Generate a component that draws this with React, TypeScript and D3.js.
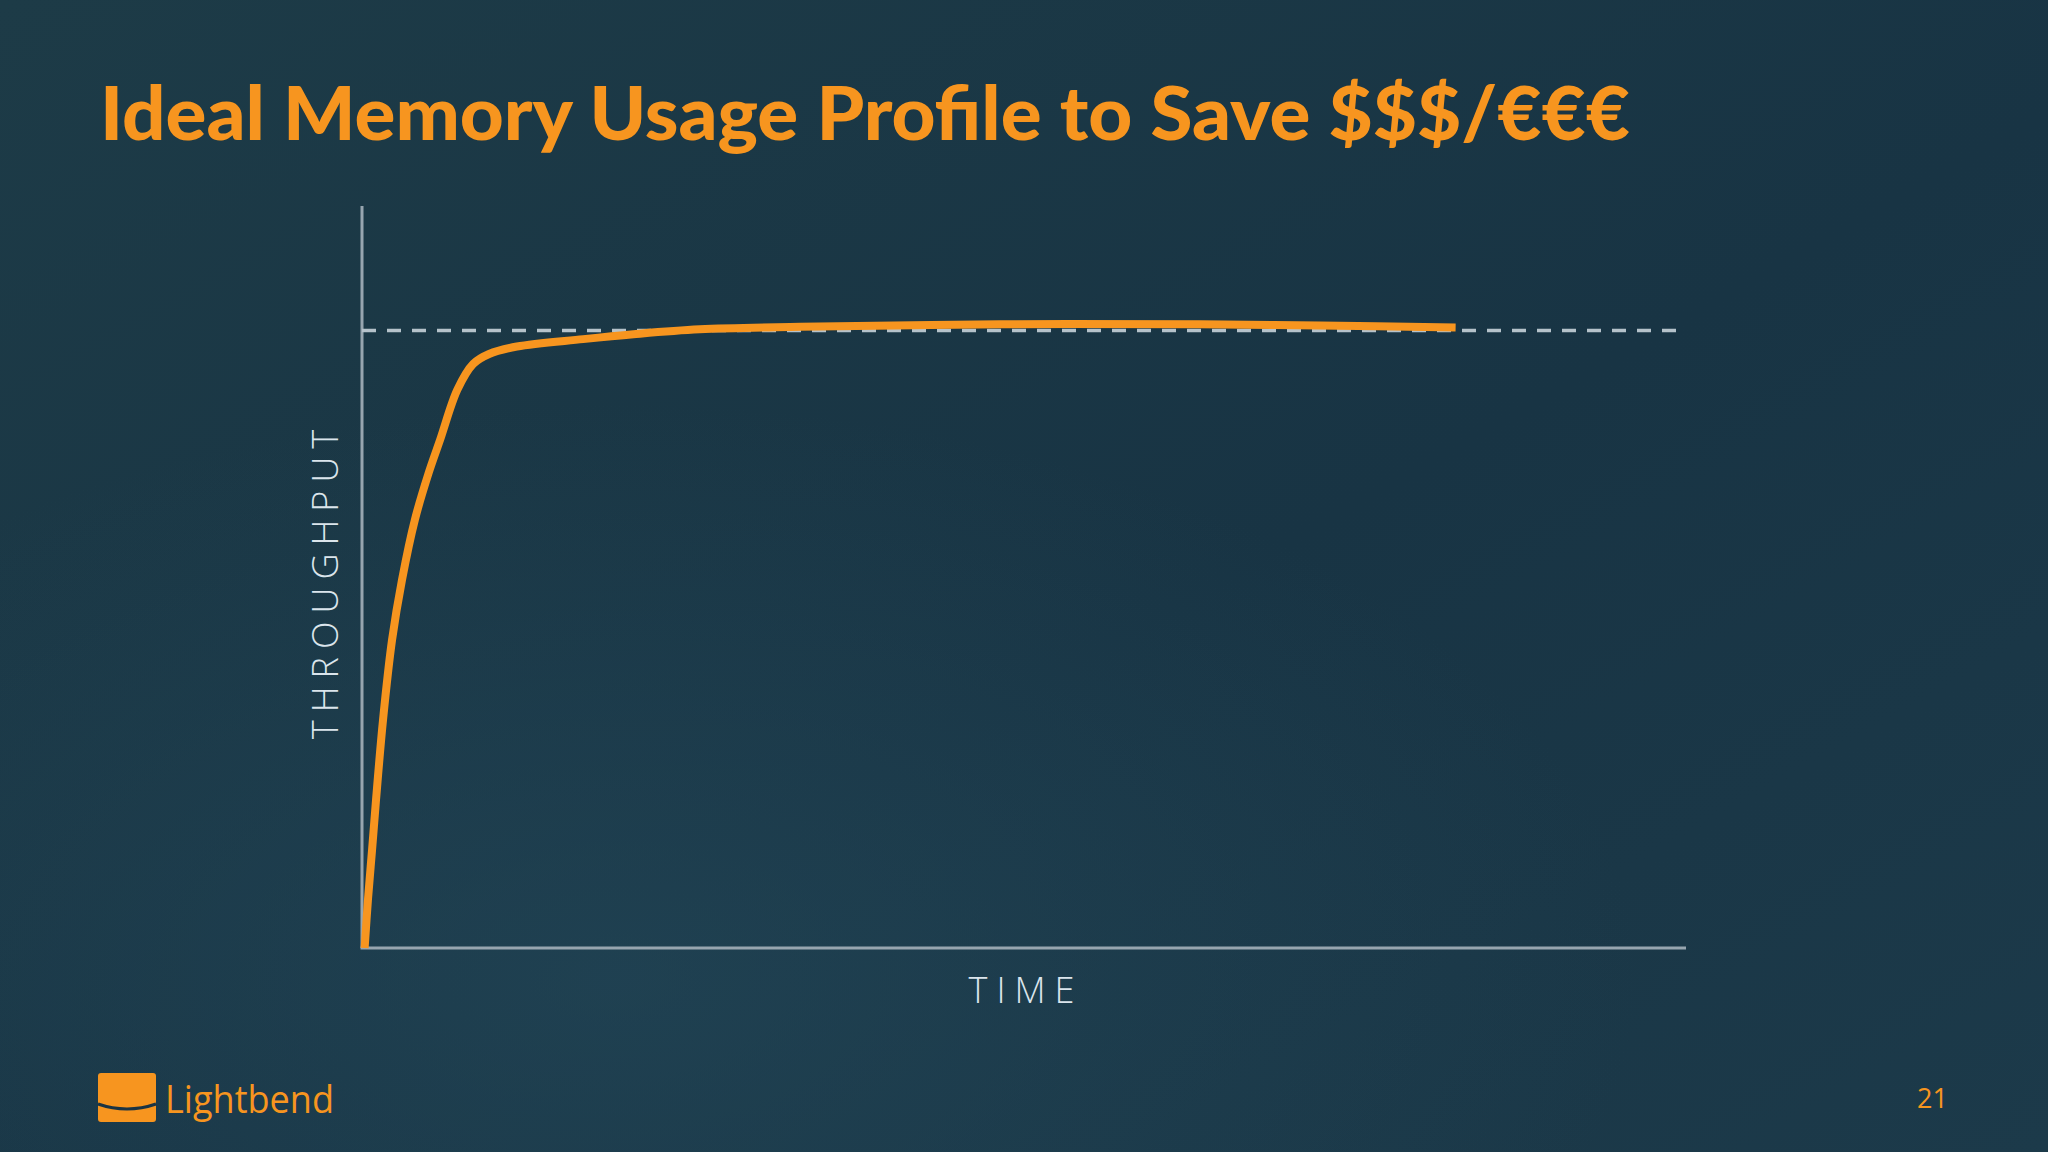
import * as React from 'react';
import {scaleLinear, line as d3Line, curveCatmullRom} from 'd3';

// Values (time and throughput are unitless, target = 100)
const timePoints = [0.2, 0.45, 0.76, 1.06, 1.59, 2.27, 3.02, 4.0, 5.0, 5.9, 7.2, 8.4, 9.6, 11.7, 16.7, 20.5, 25.5, 33.1, 48.2, 63.3, 72.4, 82.6];
const throughput = [0, 7.8, 15.9, 24.0, 37.0, 49.9, 59.6, 69.4, 76.7, 82.3, 90.4, 94.6, 96.2, 97.4, 98.6, 99.4, 100.2, 100.6, 101.0, 101.0, 100.8, 100.5];
const targetThroughput = 100;
const timeDomain = [0, 100];
const throughputDomain = [0, 120];

const title = 'Ideal Memory Usage Profile to Save $$$/€€€';
const xTitle = 'TIME';
const yTitle = 'THROUGHPUT';
const brand = 'Lightbend';
const pageNumber = '21';

const W = 2048;
const H = 1152;
const ORANGE = '#F7951F';

export default function App() {
  React.useEffect(() => {
    document.body.style.margin = '0';
  }, []);

  const margins = {left: 362, right: 362, top: 207, bottom: 204};
  const x = scaleLinear().domain(timeDomain).range([margins.left, W - margins.right]);
  const y = scaleLinear().domain(throughputDomain).range([H - margins.bottom, margins.top]);

  const data = timePoints.map((t, i) => [t, throughput[i]] as [number, number]);
  const valueline = d3Line<[number, number]>()
    .x((d) => x(d[0]))
    .y((d) => y(d[1]))
    .curve(curveCatmullRom.alpha(0.5));

  const x0 = x(timeDomain[0]);
  const x1 = x(timeDomain[1]);
  const y0 = y(throughputDomain[0]);
  const y1 = y(throughputDomain[1]);
  const yT = y(targetThroughput);

  return <svg width={W} height={H} style={{display: 'block'}}>
    <defs>
      <linearGradient id="bg" x1="0" y1="0" x2="1" y2="1">
        <stop offset="0" stopColor="#1d3b47" />
        <stop offset="0.55" stopColor="#183444" />
        <stop offset="1" stopColor="#1c3a4a" />
      </linearGradient>
      <radialGradient id="glow" cx="0.3" cy="0.85" r="0.5">
        <stop offset="0" stopColor="#24495a" stopOpacity="0.6" />
        <stop offset="1" stopColor="#24495a" stopOpacity="0" />
      </radialGradient>
    </defs>
    <rect width={W} height={H} fill="url(#bg)" />
    <rect width={W} height={H} fill="url(#glow)" />

    <text x={100} y={140} fill={ORANGE} fontFamily="'Source Sans Pro', Lato, 'Noto Sans', sans-serif"
      fontWeight={900} fontSize={74} textLength={1530} lengthAdjust="spacingAndGlyphs">{title}</text>

    {/* axes */}
    <line x1={x0} y1={y1 - 1} x2={x0} y2={y0} stroke="#97a5af" strokeWidth={3} />
    <line x1={x0 - 1.5} y1={y0} x2={x1} y2={y0} stroke="#97a5af" strokeWidth={3} />

    {/* target line */}
    <line x1={x0} y1={yT} x2={x1} y2={yT} stroke="#b5c2ca" strokeWidth={3.5} strokeDasharray="14 11" />

    <path d={valueline(data) || ''} fill="none" stroke={ORANGE} strokeWidth={8} strokeLinecap="butt" strokeLinejoin="round" />

    <text x={(x0 + x1) / 2 + 2} y={1003} textAnchor="middle" fill="#dbe5ec"
      fontFamily="'Open Sans', 'Noto Sans', sans-serif" fontWeight={300} fontSize={36} letterSpacing={9}>{xTitle}</text>
    <text transform={`translate(338, ${(y0 + y1) / 2 + 3}) rotate(-90)`} textAnchor="middle" fill="#dbe5ec"
      fontFamily="'Open Sans', 'Noto Sans', sans-serif" fontWeight={300} fontSize={36} letterSpacing={8}>{yTitle}</text>

    {/* logo */}
    <g>
      <rect x={98} y={1073} width={58} height={49} rx={3} fill={ORANGE} />
      <path d="M98,1104 Q127,1114 156,1104" fill="none" stroke="#1a3444" strokeWidth={3} />
    </g>
    <text x={165} y={1113} fill={ORANGE} fontFamily="'Open Sans', 'Noto Sans', sans-serif"
      fontWeight={400} fontSize={38} textLength={169} lengthAdjust="spacingAndGlyphs">{brand}</text>

    <text x={1948} y={1108} textAnchor="end" fill={ORANGE}
      fontFamily="'Open Sans', 'Noto Sans', sans-serif" fontSize={27}>{pageNumber}</text>
  </svg>;
}
